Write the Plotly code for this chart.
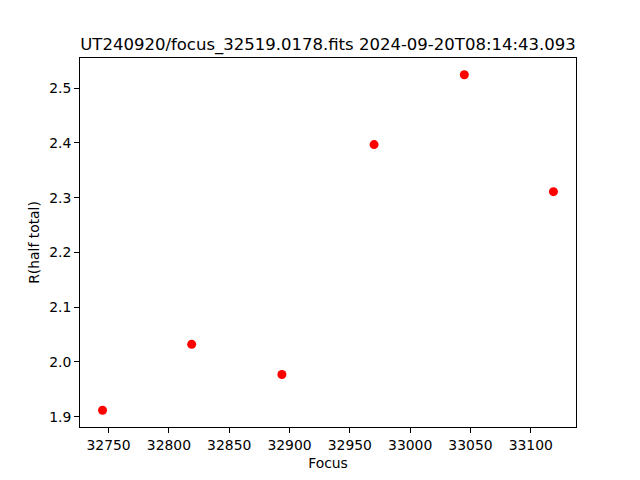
import plotly.graph_objects as go

focus = [32745.0, 32818.9, 32893.7, 32970.1, 33044.9, 33118.8]
r_half = [1.9117, 2.032, 1.977, 2.397, 2.5245, 2.311]
title = "UT240920/focus_32519.0178.fits 2024-09-20T08:14:43.093"
x_ticks = [32750, 32800, 32850, 32900, 32950, 33000, 33050, 33100]
y_ticks = [1.9, 2.0, 2.1, 2.2, 2.3, 2.4, 2.5]

def pad(vals, frac=0.05):
    lo, hi = min(vals), max(vals)
    d = (hi - lo) * frac
    return [lo - d, hi + d]

fig = go.Figure(go.Scatter(x=focus, y=r_half, mode="markers",
                           marker=dict(color="red", size=9, line=dict(width=0))))

font = dict(family="DejaVu Sans", size=13.9, color="black")
axis_common = dict(showgrid=False, zeroline=False, showline=True, mirror=True,
                   linecolor="black", linewidth=1, ticks="outside", ticklen=5,
                   tickwidth=1, tickcolor="black", tickfont=font)

# page body has an 8px margin, so the figure is 8px smaller and offset
fig.update_layout(
    width=632, height=472,
    margin=dict(l=72, r=64, t=50, b=53),
    paper_bgcolor="white", plot_bgcolor="white",
    showlegend=False,
    font=font,
    title=dict(text=title, x=0.5, xanchor="center", xref="paper",
               y=1, yref="paper", yanchor="bottom", pad=dict(b=8),
               font=dict(family="DejaVu Sans", size=16.5, color="black")),
    xaxis=dict(range=pad(focus), tickvals=x_ticks, ticktext=[str(v) for v in x_ticks],
               title=dict(text="Focus", font=font, standoff=6), **axis_common),
    yaxis=dict(range=pad(r_half), tickvals=y_ticks, ticktext=[f"{v:.1f}" for v in y_ticks],
               title=dict(text="R(half total)", font=font, standoff=6), **axis_common),
)

fig.write_html("out.html")
